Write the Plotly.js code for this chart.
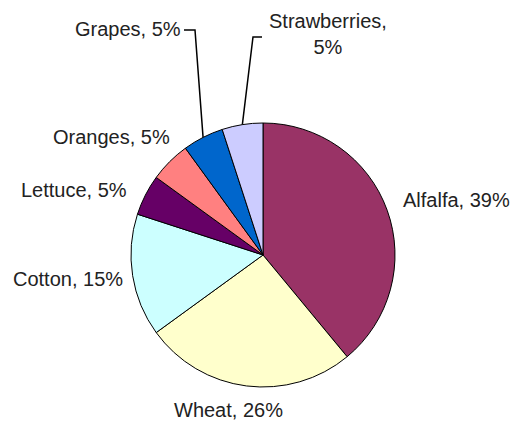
<!DOCTYPE html>
<html>
<head>
<meta charset="utf-8">
<script src="https://cdn.plot.ly/plotly-3.0.1.min.js"></script>
<style>html,body{margin:0;padding:0;background:#fff;}#chart{width:522px;height:421px;}</style>
</head>
<body>
<div id="chart"></div>
<script>
// ---- data ----
const labels = ['Alfalfa', 'Wheat', 'Cotton', 'Lettuce', 'Oranges', 'Grapes', 'Strawberries'];
const values = [39, 26, 15, 5, 5, 5, 5];
const colors = ['#993366', '#FFFFCC', '#CCFFFF', '#660066', '#FF8080', '#0066CC', '#CCCCFF'];

// ---- layout geometry (pixels) ----
const W = 522, H = 421;
const cx = 263, cy = 255, R = 132;
const px = x => x / W;
const py = y => 1 - y / H;

// label centre positions (pixels), one per slice
const labelPos = [[456, 200], [228, 410], [68, 279], [74, 190], [111, 137], [128, 29], [328, 34]];

const total = values.reduce((a, b) => a + b, 0);
const pct = values.map(v => Math.round(v / total * 100));

// mid angle of each slice (clockwise from 12 o'clock) -> anchor point on rim
let acc = 0;
const anchors = values.map(v => {
  const mid = (acc + v / 2) / total * 2 * Math.PI;
  acc += v;
  return [cx + R * Math.sin(mid), cy - R * Math.cos(mid)];
});

const annotations = labels.map((l, i) => ({
  xref: 'paper', yref: 'paper',
  x: px(labelPos[i][0]), y: py(labelPos[i][1]),
  xanchor: 'center', yanchor: 'middle',
  text: l === 'Strawberries' ? l + ',<br>' + pct[i] + '%' : l + ', ' + pct[i] + '%',
  showarrow: false,
  align: 'center',
  font: {family: 'Liberation Sans, Arial, sans-serif', size: 20, color: '#222'}
}));

// leader lines for the two small top slices
const gi = labels.indexOf('Grapes'), si = labels.indexOf('Strawberries');
const shapes = [
  {type: 'path', xref: 'paper', yref: 'paper',
   path: `M ${px(184)} ${py(30)} L ${px(195)} ${py(30)} L ${px(anchors[gi][0])} ${py(anchors[gi][1])}`,
   line: {color: '#000', width: 1.5}},
  {type: 'path', xref: 'paper', yref: 'paper',
   path: `M ${px(262)} ${py(37)} L ${px(253)} ${py(37)} L ${px(anchors[si][0])} ${py(anchors[si][1])}`,
   line: {color: '#000', width: 1.5}}
];

const trace = {
  type: 'pie',
  labels: labels,
  values: values,
  sort: false,
  direction: 'clockwise',
  rotation: 0,
  textinfo: 'none',
  hoverinfo: 'label+percent',
  marker: {colors: colors, line: {color: '#000', width: 1}},
  domain: {x: [px(cx - R), px(cx + R)], y: [py(cy + R), py(cy - R)]}
};

Plotly.newPlot('chart', [trace], {
  width: W, height: H,
  margin: {l: 0, r: 0, t: 0, b: 0},
  paper_bgcolor: '#fff',
  showlegend: false,
  annotations: annotations,
  shapes: shapes
}, {displayModeBar: false, staticPlot: true});
</script>
</body>
</html>
